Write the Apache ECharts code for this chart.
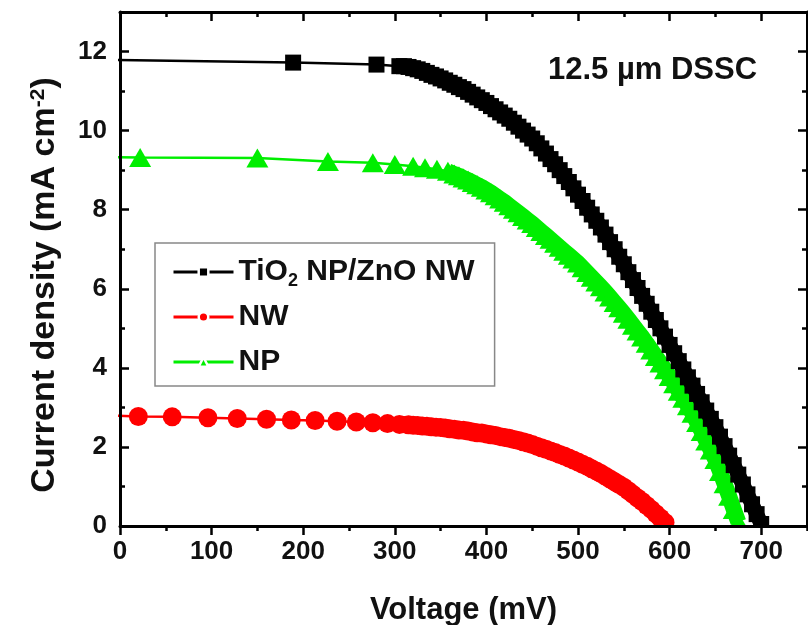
<!DOCTYPE html>
<html><head><meta charset="utf-8">
<script src="https://cdn.jsdelivr.net/npm/echarts@6/dist/echarts.min.js"></script>
<style>html,body{margin:0;padding:0;background:#fff}#c{width:808px;height:625px}</style>
</head><body><div id="c"></div>
<script>
// ---- data ----
const seriesNames = ['TiO2 NP/ZnO NW', 'NW', 'NP'];
const xMajorStep = 100, xMinorStep = 50;   // mV
const yMajorStep = 2, yMinorStep = 1;      // mA cm-2

const tiV = [-10,189,280,305,
  310,315,320,325,330,335,340,345,350,355,
  360,365,370,375,380,385,390,395,400,405,
  410,415,420,425,430,435,440,445,450,455,
  460,465,470,475,480,485,490,495,500,505,
  510,515,520,525,530,535,540,545,550,555,
  560,565,570,575,580,585,590,595,600,605,
  610,615,620,625,630,635,640,645,650,655,
  660,665,670,675,680,685,690,695,700];
const tiJ = [11.79,11.72,11.67,11.63,
  11.63,11.61,11.58,11.55,11.51,11.46,11.41,11.37,11.32,11.27,
  11.21,11.16,11.10,11.05,10.98,10.91,10.84,10.77,10.70,10.62,
  10.54,10.46,10.38,10.30,10.20,10.10,10.00,9.90,9.80,9.68,
  9.55,9.42,9.28,9.15,9.00,8.85,8.70,8.54,8.38,8.22,
  8.05,7.88,7.72,7.55,7.37,7.18,7.00,6.81,6.62,6.42,
  6.22,6.02,5.82,5.62,5.42,5.21,5.00,4.79,4.58,4.37,
  4.17,3.96,3.76,3.55,3.34,3.13,2.92,2.71,2.50,2.26,
  2.02,1.78,1.54,1.30,1.05,0.80,0.55,0.30,0.05];

const nwV = [-5,20,57,96,128,160,187,213,237,258,276,292,305,
  315,320,325,330,335,340,345,350,355,360,
  365,370,375,380,385,390,395,400,405,410,
  415,420,425,430,435,440,445,450,455,460,
  465,470,475,480,485,490,495,500,505,510,
  515,520,525,530,535,540,545,550,555,560,
  565,570,575,580,585,590,595];
const nwJ = [2.79,2.77,2.76,2.74,2.72,2.70,2.68,2.67,2.65,2.63,2.61,2.59,2.57,
  2.56,2.55,2.54,2.53,2.52,2.51,2.50,2.49,2.48,2.46,
  2.45,2.43,2.42,2.40,2.38,2.36,2.35,2.33,2.31,2.29,
  2.26,2.24,2.22,2.19,2.16,2.13,2.10,2.06,2.02,1.98,
  1.94,1.90,1.86,1.81,1.77,1.72,1.67,1.62,1.56,1.51,
  1.45,1.39,1.33,1.26,1.19,1.12,1.05,0.98,0.89,0.80,
  0.71,0.62,0.52,0.42,0.31,0.20,0.09];

const npV = [-6,22,150,227,276,300,320,333,346,358,
  365,370,375,380,385,390,395,400,405,410,
  415,420,425,430,435,440,445,450,455,460,
  465,470,475,480,485,490,495,500,505,510,
  515,520,525,530,535,540,545,550,555,560,
  565,570,575,580,585,590,595,600,605,610,
  615,620,625,630,635,640,645,650,655,660,
  665,670,675];
const npJ = [9.33,9.32,9.31,9.22,9.19,9.14,9.10,9.06,9.02,8.97,
  8.90,8.86,8.80,8.75,8.69,8.63,8.57,8.50,8.43,8.35,
  8.27,8.19,8.10,8.01,7.92,7.83,7.74,7.65,7.55,7.45,
  7.35,7.25,7.15,7.05,6.95,6.85,6.75,6.65,6.53,6.41,
  6.29,6.17,6.05,5.92,5.79,5.65,5.52,5.38,5.23,5.08,
  4.93,4.78,4.62,4.45,4.29,4.12,3.95,3.78,3.60,3.41,
  3.23,3.04,2.85,2.62,2.39,2.15,1.92,1.68,1.38,1.07,
  0.75,0.42,0.10];

// index where the densely sampled part of each curve begins
const tiDense = 3, nwDense = 12, npDense = 9;

// ---- chart ----
const FONT = "'Liberation Sans', Arial, sans-serif";
const TXT = '#111';
const BLACK = '#000000', RED = '#ff0000', GREEN = '#00ee00';
const pairs = (v, j) => v.map((x, i) => [x, j[i]]);

const axisLineStyle = {color: '#000', width: 3};
const tickStyle = {color: '#000', width: 2.5};
const labelStyle = {color: TXT, fontFamily: FONT, fontWeight: 'bold', fontSize: 26};

function axis(kind, pos, step, inside, len, labels, lineShow) {
  const isX = kind === 'x';
  return {
    type: 'value', position: pos, min: 0, max: isX ? 750 : 13, interval: step, z: 10,
    axisLine: {show: lineShow, onZero: false, lineStyle: axisLineStyle},
    axisTick: {show: true, inside: inside, length: len, lineStyle: tickStyle},
    splitLine: {show: false},
    axisLabel: Object.assign({show: labels, margin: isX ? 13 : 13, showMaxLabel: false}, labelStyle)
  };
}
const xBottom = Object.assign(axis('x', 'bottom', xMajorStep, false, 9, true, true), {
  name: 'Voltage (mV)', nameLocation: 'middle', nameGap: 69,
  nameTextStyle: {color: TXT, fontFamily: FONT, fontWeight: 'bold', fontSize: 31}
});
const yLeft = Object.assign(axis('y', 'left', yMajorStep, true, 9, true, true), {
  name: 'Current density (mA cm{sup|-2})', nameLocation: 'middle', nameGap: 58,
  nameTextStyle: {color: TXT, fontFamily: FONT, fontWeight: 'bold', fontSize: 34,
    padding: [0, 32, 0, 0],
    rich: {sup: {color: TXT, fontFamily: FONT, fontWeight: 'bold', fontSize: 21, lineHeight: 15, verticalAlign: 'top'}}}
});

function markerSeries(name, v, j, color, symbol, size, z) {
  return {
    name: name, type: 'line', data: pairs(v, j), xAxisIndex: 0, yAxisIndex: 0,
    symbol: symbol, symbolSize: size, showSymbol: true, showAllSymbol: true,
    itemStyle: {color: color}, lineStyle: {color: color, width: 2.5},
    clip: true, z: z, emphasis: {disabled: true}, silent: true
  };
}
// the densely packed markers merge into a solid band: drawn as a thick line under them
function bandSeries(name, v, j, k, color, width, z) {
  return {
    name: name + ' band', type: 'line', data: pairs(v.slice(k), j.slice(k)), xAxisIndex: 0, yAxisIndex: 0,
    symbol: 'none', showSymbol: false,
    lineStyle: {color: color, width: width, join: 'round', cap: 'butt'},
    clip: true, z: z, emphasis: {disabled: true}, silent: true
  };
}

const chart = echarts.init(document.getElementById('c'), null, {renderer: 'canvas'});
chart.setOption({
  animation: false,
  backgroundColor: '#fff',
  grid: {left: 120, right: 1, top: 12, bottom: 99, outerBoundsMode: 'none', containLabel: false},
  title: {text: '12.5 µm DSSC', left: 548, top: 55, padding: 0,
    textStyle: {color: TXT, fontFamily: FONT, fontWeight: 'bold', fontSize: 31}},
  legend: {
    data: seriesNames, orient: 'vertical', left: 155, top: 243,
    padding: [11, 20, 6, 17], itemGap: 9, itemWidth: 60, itemHeight: 12,
    borderColor: '#888', borderWidth: 1.5, backgroundColor: '#fff',
    itemStyle: {borderColor: '#fff', borderWidth: 2.5},
    lineStyle: {width: 3},
    formatter: function (n) { return n === seriesNames[0] ? 'TiO{s|2} NP/ZnO NW' : n; },
    textStyle: {color: TXT, fontFamily: FONT, fontWeight: 'bold', fontSize: 30, lineHeight: 36,
      rich: {s: {color: TXT, fontFamily: FONT, fontWeight: 'bold', fontSize: 18, lineHeight: 16, verticalAlign: 'bottom'}}}
  },
  xAxis: [
    xBottom,
    axis('x', 'bottom', xMinorStep, false, 5, false, false),
    axis('x', 'top', xMajorStep, true, 9, false, true),
    axis('x', 'top', xMinorStep, true, 5, false, false)
  ],
  yAxis: [
    yLeft,
    axis('y', 'left', yMinorStep, true, 5, false, false),
    axis('y', 'right', yMajorStep, true, 9, false, true),
    axis('y', 'right', yMinorStep, true, 5, false, false)
  ],
  graphic: [{type: 'rect', shape: {x: 118, y: 527.6, width: 692, height: 9}, style: {fill: '#fff'}, z: 5, silent: true}],
  series: [
    bandSeries(seriesNames[2], npV, npJ, npDense, GREEN, 16, 2),
    markerSeries(seriesNames[2], npV, npJ, GREEN, 'triangle', [22, 19], 2),
    bandSeries(seriesNames[1], nwV, nwJ, nwDense, RED, 17, 3),
    markerSeries(seriesNames[1], nwV, nwJ, RED, 'circle', 19, 3),
    bandSeries(seriesNames[0], tiV, tiJ, tiDense, BLACK, 15, 4),
    markerSeries(seriesNames[0], tiV, tiJ, BLACK, 'rect', 16, 4)
  ]
});
</script></body></html>
